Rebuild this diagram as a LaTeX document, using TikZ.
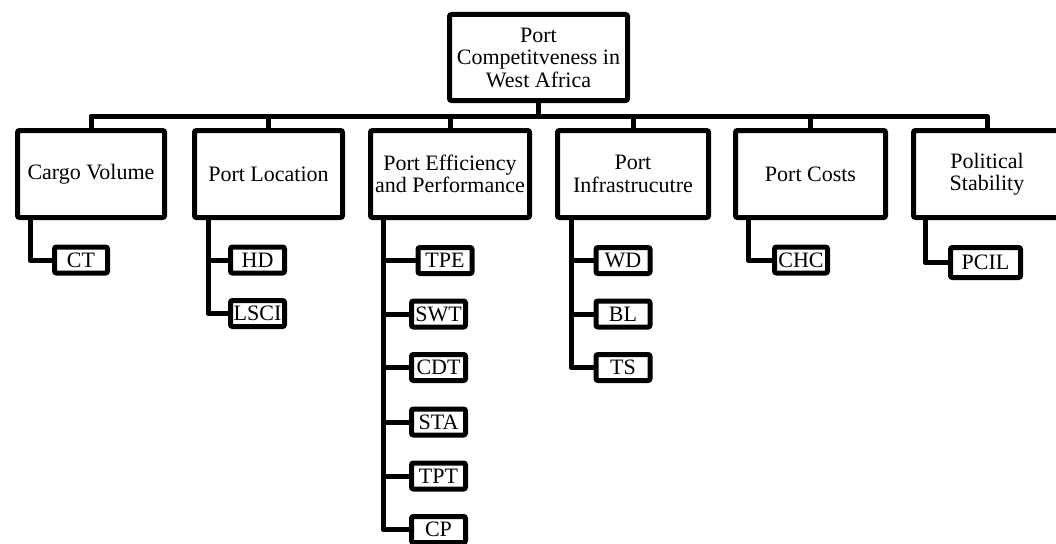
\documentclass[tikz,border=0pt]{standalone}
\usepackage{fontspec}
\setmainfont{Liberation Serif}
\usetikzlibrary{calc}
\tikzset{
  box/.style={draw=black, line width=5pt, rounded corners=2pt, fill=white, inner sep=0pt, align=center,
    font=\fontsize{22}{22.5}\selectfont},
  bigbox/.style={box, minimum height=87pt},
  leaf/.style={box, minimum height=26pt, minimum width=54pt},
  link/.style={line width=5pt, line join=round}
}
\begin{document}
\begin{tikzpicture}[x=1pt,y=-1pt]
\useasboundingbox (0,0) rectangle (1056,543);
% root
\node[box, minimum width=178pt, minimum height=86pt] (top) at (538.5,57.5) {Port\\Competitveness in\\West Africa};
% second level
\node[bigbox, minimum width=147pt] (cv) at (91,174) {Cargo Volume};
\node[bigbox, minimum width=148pt] (pl) at (268.5,174) {Port Location};
\node[bigbox, minimum width=159pt] (pe) at (450,174) {Port Efficiency\\and Performance};
\node[bigbox, minimum width=151pt] (pi) at (633,174) {Port\\Infrastrucutre};
\node[bigbox, minimum width=150pt] (pc) at (810.5,174) {Port Costs};
\node[bigbox, minimum width=147pt] (ps) at (987,174) {Political\\Stability};
% bus
\coordinate (bus) at (538.5,116);
\draw[link] (cv.north) |- (bus) -| (ps.north);
\draw[link] (top.south) -- (bus);
\foreach \n in {pl,pe,pi,pc} \draw[link] (\n.north) -- (\n.north |- bus);
% leaves
\node[leaf, minimum width=53pt] (ct) at (81,260) {CT};
\node[leaf] (hd) at (257.5,260) {HD};
\node[leaf] (lsci) at (257.5,313.5) {LSCI};
\node[leaf] (tpe) at (445,260.5) {TPE};
\node[leaf] (swt) at (438.5,314) {SWT};
\node[leaf] (cdt) at (438.5,367.5) {CDT};
\node[leaf] (sta) at (438.5,422) {STA};
\node[leaf] (tpt) at (438.5,476) {TPT};
\node[leaf] (cp) at (438.5,529.5) {CP};
\node[leaf] (wd) at (623,260.5) {WD};
\node[leaf] (bl) at (623,314) {BL};
\node[leaf] (ts) at (623,367.5) {TS};
\node[leaf, minimum width=53pt] (chc) at (801,260) {CHC};
\node[leaf, minimum width=70pt, minimum height=30pt] (pcil) at (985.5,262.5) {PCIL};
% child links
\coordinate (cvv) at ($(cv.south west)+(15,0)$);
\coordinate (plv) at ($(pl.south west)+(16,0)$);
\coordinate (pev) at ($(pe.south west)+(15,0)$);
\coordinate (piv) at ($(pi.south west)+(16,0)$);
\coordinate (pcv) at ($(pc.south west)+(15,0)$);
\coordinate (psv) at ($(ps.south west)+(14,0)$);
\draw[link] (cvv) |- (ct.west);
\draw[link] (plv) |- (lsci.west);
\draw[link] (hd.west) -- (hd.west -| plv);
\draw[link] (pev) |- (cp.west);
\foreach \n in {tpe,swt,cdt,sta,tpt} \draw[link] (\n.west) -- (\n.west -| pev);
\draw[link] (piv) |- (ts.west);
\foreach \n in {wd,bl} \draw[link] (\n.west) -- (\n.west -| piv);
\draw[link] (pcv) |- (chc.west);
\draw[link] (psv) |- (pcil.west);
\end{tikzpicture}
\end{document}
